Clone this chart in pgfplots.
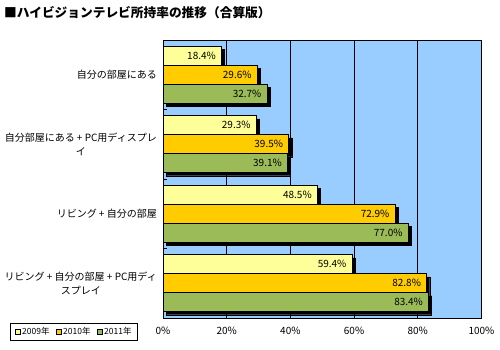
\documentclass[border=0pt]{standalone}
\usepackage{pgfplots}
\pgfplotsset{compat=1.18}
\usepackage{fontspec}
\setmainfont{Noto Sans CJK JP}
\definecolor{bgblue}{HTML}{99CCFF}
\definecolor{c2009}{HTML}{FFFF99}
\definecolor{c2010}{HTML}{FFCC00}
\definecolor{c2011}{HTML}{9BBB59}
\begin{document}
\begin{tikzpicture}
\path[use as bounding box] (0pt,0pt) rectangle (500pt,-350pt);
\node[anchor=west, inner sep=0pt, font=\bfseries\fontsize{12.7}{14}\selectfont] at (4pt,-13pt) {■ハイビジョンテレビ所持率の推移（合算版）};
\begin{axis}[
  at={(163pt,-40pt)}, anchor=north west,
  scale only axis, width=318.5pt, height=278pt,
  xmin=0, xmax=100, ymin=-0.5, ymax=3.5,
  y dir=reverse,
  xbar, bar width=0.273,
  /pgf/number format/assume math mode=true,
  axis background/.style={fill=bgblue},
  axis line style={black, line width=0.8pt},
  xmajorgrids, grid style={black, line width=0.7pt},
  xtick={0,20,40,60,80,100},
  xticklabels={0\%,20\%,40\%,60\%,80\%,100\%},
  xtick pos=bottom, x tick style={draw=none},
  xticklabel style={font=\fontsize{10}{12}\selectfont, inner sep=0pt, yshift=-9pt},
  ytick={0,1,2,3},
  yticklabels={自分の部屋にある, 自分部屋にある + PC用ディスプレ\\イ, リビング + 自分の部屋, リビング + 自分の部屋 + PC用ディ\\スプレイ},
  yticklabel style={font=\fontsize{10}{13.5}\selectfont, align=center, inner sep=0pt, xshift=-6pt},
  y tick style={draw=none},
  ytick pos=left,
  tick align=inside,
  extra y ticks={0.5,1.5,2.5},
  extra y tick labels={},
  extra y tick style={y tick style={draw=black, line width=0.8pt}, major tick length=4pt, ymajorgrids=false, tick align=inside},
  nodes near coords={\pgfmathprintnumber[fixed,precision=1,fixed zerofill]{\pgfplotspointmeta}\%},
  every node near coord/.append style={anchor=east, font=\fontsize{10}{12}\selectfont, xshift=-2pt, black},
  legend style={at={(axis description cs:-0.4796,-0.018)}, anchor=north west,
     legend columns=3, draw=black, line width=0.8pt, font=\fontsize{8.5}{10}\selectfont,
     inner xsep=4pt, inner ysep=2pt, /tikz/every even column/.append style={column sep=4pt}},
  legend image code/.code={\draw[#1, line width=0.6pt] (0pt,-2.5pt) rectangle (5pt,2.5pt);},
]
% shadows
\addplot[forget plot, fill=black, draw=black, bar shift=-0.273, xshift=3pt, yshift=-3pt, nodes near coords={}] coordinates {(18.4,0) (29.3,1) (48.5,2) (59.4,3)};
\addplot[forget plot, fill=black, draw=black, bar shift=0, xshift=3pt, yshift=-3pt, nodes near coords={}] coordinates {(29.6,0) (39.5,1) (72.9,2) (82.8,3)};
\addplot[forget plot, fill=black, draw=black, bar shift=0.273, xshift=3pt, yshift=-3pt, nodes near coords={}] coordinates {(32.7,0) (39.1,1) (77.0,2) (83.4,3)};
% bars
\addplot[fill=c2009, draw=black, line width=0.8pt, bar shift=-0.273] coordinates {(18.4,0) (29.3,1) (48.5,2) (59.4,3)};
\addplot[fill=c2010, draw=black, line width=0.8pt, bar shift=0] coordinates {(29.6,0) (39.5,1) (72.9,2) (82.8,3)};
\addplot[fill=c2011, draw=black, line width=0.8pt, bar shift=0.273] coordinates {(32.7,0) (39.1,1) (77.0,2) (83.4,3)};
\legend{2009年,2010年,2011年}
\end{axis}
\end{tikzpicture}
\end{document}
